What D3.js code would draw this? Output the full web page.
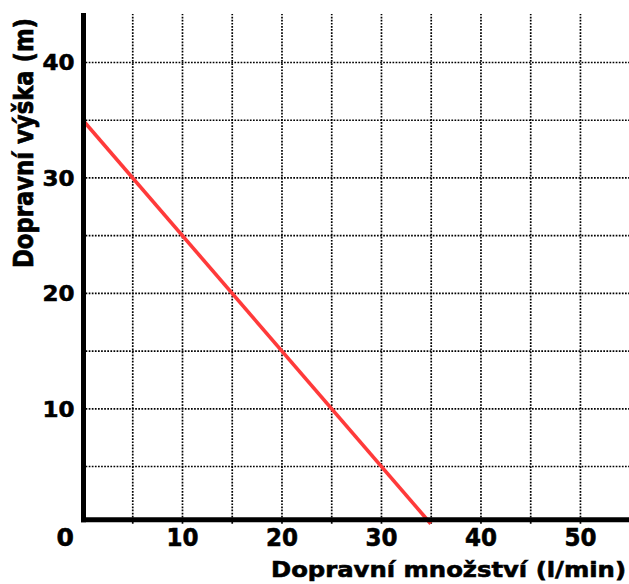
<!DOCTYPE html>
<html>
<head>
<meta charset="utf-8">
<script src="https://cdn.jsdelivr.net/npm/d3@7"></script>
<style>
  body { margin: 0; background: #fff; }
  svg { display: block; }
  .lbl { font-family: "DejaVu Sans", sans-serif; font-weight: bold; fill: #000; stroke: #000; stroke-width: 0.6; }
</style>
</head>
<body>
<svg id="mainSVG" width="629" height="584"></svg>
<script>
// data
var flow = [0, 35];          // Dopravní množství (l/min)
var head = [35, 0];          // Dopravní výška (m)
var xTicks = [10, 20, 30, 40, 50];
var yTicks = [10, 20, 30, 40];
var xGrid = [5, 10, 15, 20, 25, 30, 35, 40, 45, 50];
var yGrid = [5, 10, 15, 20, 25, 30, 35, 40];

var svg = d3.select("#mainSVG");

// scales
var x = d3.scaleLinear().domain([0, 55]).range([82.5, 629.7]);
var y = d3.scaleLinear().domain([0, 44.16]).range([523.7, 14]);

// mrizka (teckovana)
var gx = svg.append("g")
    .attr("transform", "translate(0," + y(0) + ")")
    .call(d3.axisBottom(x).tickValues(xGrid).tickSize(-(y(0) - y(44.16))).tickFormat(""));
var gy = svg.append("g")
    .attr("transform", "translate(" + x(0) + ",0)")
    .call(d3.axisLeft(y).tickValues(yGrid).tickSize(-(629 - x(0))).tickFormat(""));
[gx, gy].forEach(function (g) {
  g.select(".domain").remove();
  g.selectAll(".tick line")
    .attr("stroke", "#000")
    .attr("stroke-width", 1.7)
    .attr("stroke-dasharray", "1.7,1.4");
});

// cervena cara
var pts = flow.map(function (d, i) { return [d, head[i]]; });
svg.append("path")
    .datum(pts)
    .attr("fill", "none")
    .attr("stroke", "#ff3a3a")
    .attr("stroke-width", 3.6)
    .attr("d", d3.line().x(function (d) { return x(d[0]); }).y(function (d) { return y(d[1]); }));

// osy
svg.append("line")
    .attr("x1", x(0) + 1).attr("x2", x(0) + 1)
    .attr("y1", 13).attr("y2", y(0) - 1.5)
    .attr("stroke", "#000").attr("stroke-width", 5);
svg.append("line")
    .attr("x1", x(0) - 1.5).attr("x2", 629)
    .attr("y1", y(0) - 4).attr("y2", y(0) - 4)
    .attr("stroke", "#000").attr("stroke-width", 5);

// popisky os
var xl = svg.append("g")
    .attr("transform", "translate(0," + y(0) + ")")
    .call(d3.axisBottom(x).tickValues(xTicks).tickSize(0).tickPadding(0));
xl.select(".domain").remove();
xl.selectAll("text")
    .attr("class", "lbl")
    .attr("y", 22)
    .attr("dy", 0)
    .style("font-size", "25px")
    .attr("textLength", 32)
    .attr("lengthAdjust", "spacingAndGlyphs");

svg.append("text")
    .attr("class", "lbl")
    .attr("x", x(0) - 26).attr("y", y(0) + 22)
    .style("font-size", "25px")
    .text("0");

var yl = svg.append("g")
    .attr("transform", "translate(" + x(0) + ",0)")
    .call(d3.axisLeft(y).tickValues(yTicks).tickSize(0).tickPadding(8));
yl.select(".domain").remove();
yl.selectAll("text")
    .attr("class", "lbl")
    .attr("dy", "0.36em")
    .style("font-size", "22px")
    .attr("textLength", 32)
    .attr("lengthAdjust", "spacingAndGlyphs");

// nazvy os
svg.append("text")
    .attr("class", "lbl")
    .attr("x", 271).attr("y", 577)
    .style("font-size", "21px")
    .attr("textLength", 355)
    .attr("lengthAdjust", "spacingAndGlyphs")
    .text("Dopravní množství (l/min)");

svg.append("text")
    .attr("class", "lbl")
    .attr("transform", "translate(33,268) rotate(-90) scale(1,1.22)")
    .style("font-size", "22.5px")
    .attr("textLength", 250)
    .attr("lengthAdjust", "spacingAndGlyphs")
    .text("Dopravní výška (m)");
</script>
</body>
</html>
